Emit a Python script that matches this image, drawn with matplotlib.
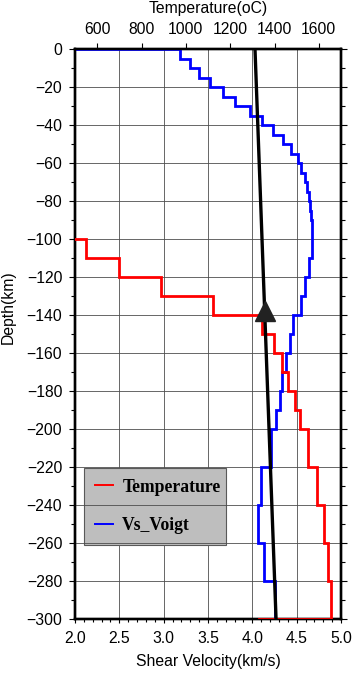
import numpy as np
import matplotlib
matplotlib.use("Agg")
import matplotlib.pyplot as plt
from matplotlib.lines import Line2D
from matplotlib.ticker import MultipleLocator, FixedLocator

# ---------------- data ----------------
# Shear velocity (Vs_Voigt) layered profile: layer boundaries (km) and Vs (km/s)
vs_bounds = [0, 5, 10, 15, 20, 25, 30, 35, 40, 45, 50, 55, 60, 65, 70, 75, 80,
             85, 90, 95, 100, 110, 120, 130, 140, 150, 160, 170, 180, 190, 200,
             220, 240, 260, 280, 300]
vs_values = [3.18, 3.30, 3.40, 3.52, 3.67, 3.81, 3.97, 4.11, 4.23, 4.35,
             4.44, 4.51, 4.55, 4.59, 4.62, 4.64, 4.655, 4.66, 4.67, 4.67,
             4.67, 4.64, 4.59, 4.55, 4.46, 4.43, 4.38, 4.33, 4.31, 4.27,
             4.21, 4.10, 4.06, 4.135, 4.26]
vs_surface = 2.0

# Temperature layered profile: boundaries (km) and temperature (oC)
temp_bounds = [100, 110, 120, 130, 140, 150, 160, 170, 180, 190, 200,
               220, 240, 260, 280, 300]
temp_values = [550, 700, 890, 1121, 1345, 1399, 1436, 1462, 1492, 1515,
               1552, 1593, 1622, 1641, 1653]
temp_top = 500
temp_bottom = 1331

# Adiabat (oC) vs depth (km)
adiabat_depth = [0, 300]
adiabat_temp = [1312, 1407]

# LAB marker
lab_depth = 138
lab_temp = 1355

vel_ticks = [2.0, 2.5, 3.0, 3.5, 4.0, 4.5, 5.0]
temp_ticks = [600, 800, 1000, 1200, 1400, 1600]
depth_ticks = list(range(-300, 1, 20))


def step_profile(bounds, values, lead, trail=None):
    xs = [lead]
    ys = [bounds[0]]
    for i, v in enumerate(values):
        xs += [v, v]
        ys += [bounds[i], bounds[i + 1]]
    if trail is not None:
        xs.append(trail)
        ys.append(bounds[-1])
    return np.array(xs, dtype=float), -np.array(ys, dtype=float)


# ---------------- figure ----------------
plt.rcParams['font.family'] = ['Liberation Sans', 'DejaVu Sans']
fs = 11.3

fig = plt.figure(figsize=(3.54, 6.74), dpi=100)
ax = fig.add_axes([75 / 354, 1 - 619 / 674, 266 / 354, 570 / 674])

ax.set_xlim(2.0, 5.0)
ax.set_ylim(-300, 0)
ax.set_xticks(vel_ticks)
ax.set_xticklabels([f"{t:.1f}" for t in vel_ticks], fontsize=fs)
ax.xaxis.set_minor_locator(MultipleLocator(0.1))
ax.set_yticks(depth_ticks)
ax.set_yticklabels([f"{t}".replace('-', '\u2212') for t in depth_ticks], fontsize=fs)
ax.yaxis.set_minor_locator(MultipleLocator(10))

ax.tick_params(axis='both', which='both', direction='out', color='black')
ax.tick_params(axis='y', which='both', right=True, labelright=False)
ax.tick_params(axis='y', which='major', length=4.5, width=0.8, pad=4.6)
ax.tick_params(axis='y', which='minor', length=2.6, width=0.8)
ax.tick_params(axis='x', which='major', length=3.2, width=0.8, pad=5.5)
ax.tick_params(axis='x', which='minor', length=2.2, width=0.8)

ax.grid(True, which='major', color='0.3', linewidth=0.6)

for sp in ax.spines.values():
    sp.set_linewidth(1.7)

ax.set_xlabel('Shear Velocity(km/s)', fontsize=fs)
ax.xaxis.set_label_coords(0.5, (619 - 654) / 570)
ax.xaxis.label.set_verticalalignment('top')
ax.set_ylabel('Depth(km)', fontsize=fs)
ax.yaxis.set_label_coords((16 - 75) / 266, (619 - 307) / 570)

# blue Vs profile
vx, vy = step_profile(vs_bounds, vs_values, vs_surface)
ax.plot(vx, vy, color='#0000ff', linewidth=2.0, solid_joinstyle='miter', zorder=3)

# temperature axis on top
ax2 = ax.twiny()
ax2.set_xlim(500, 1700)
ax2.set_ylim(-300, 0)
ax2.xaxis.set_major_locator(FixedLocator(temp_ticks))
ax2.set_xticklabels([str(t) for t in temp_ticks], fontsize=fs)
ax2.tick_params(axis='x', which='major', direction='out', length=4.3, width=0.8, pad=4.3)
for sp in ax2.spines.values():
    sp.set_linewidth(1.7)
ax2.set_xlabel('Temperature(oC)', fontsize=fs)
ax2.xaxis.set_label_coords(0.5, (619 - 13.3) / 570)

tx, ty = step_profile(temp_bounds, temp_values, temp_top, temp_bottom)
ax2.plot(tx, ty, color='#ff0000', linewidth=2.0, solid_joinstyle='miter', zorder=3)
ax2.plot(adiabat_temp, [-d for d in adiabat_depth], color='black', linewidth=2.4, zorder=4)
ax2.plot([lab_temp], [-lab_depth], marker='^', markersize=15, color='#222222',
         linestyle='none', zorder=5)

# legend
handles = [Line2D([], [], color='#ff0000', linewidth=1.4),
           Line2D([], [], color='#0000ff', linewidth=1.4)]
leg = ax.legend(handles, ['Temperature', 'Vs_Voigt'],
                loc='upper left',
                bbox_to_anchor=(9 / 266, (619 - 467.7) / 570, 141.7 / 266, 0.0),
                mode='expand', borderaxespad=0,
                prop={'family': 'Liberation Serif', 'weight': 'bold', 'size': 12.7},
                handlelength=1.0, handletextpad=0.55, borderpad=0.62,
                labelspacing=1.2, fancybox=False, framealpha=1.0,
                facecolor='#bebebe', edgecolor='0.35')
leg.get_frame().set_linewidth(0.8)
leg.set_zorder(2.2)
ax.yaxis.set_zorder(2.6)
ax.xaxis.set_zorder(1.5)

fig.savefig('out.png', dpi=100)
